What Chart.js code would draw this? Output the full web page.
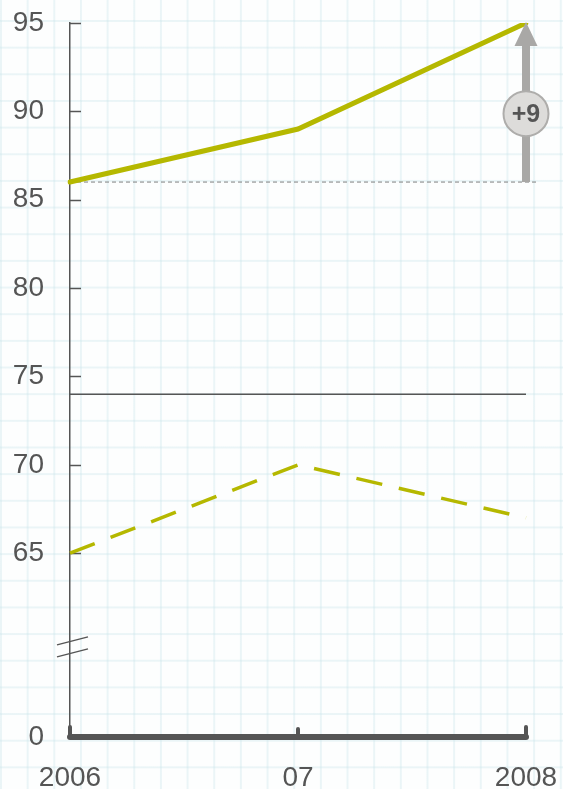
<!DOCTYPE html>
<html>
<head>
<meta charset="utf-8">
<script src="https://cdn.jsdelivr.net/npm/chart.js@4"></script>
<style>
html,body{margin:0;padding:0;}
body{
  width:563px;height:789px;overflow:hidden;
  background-color:#fdfefe;
  background-image:
    linear-gradient(to right, rgba(200,228,234,0.35) 1.5px, transparent 1.5px),
    linear-gradient(to bottom, rgba(200,228,234,0.35) 1.5px, transparent 1.5px);
  background-size:26.67px 26.67px;
  background-position:0 20px;
}
#wrap{position:absolute;left:0;top:0;width:563px;height:789px;}
</style>
</head>
<body>
<div id="wrap"><canvas id="c"></canvas></div>
<script>
// ---- data ----
const years = ['2006', '07', '2008'];
const solidSeries = [86, 89, 95];
const dashedSeries = [65, 70, 67];
const referenceLevel = 74;
const yTickValues = [65, 70, 75, 80, 85, 90, 95];
const axisBottomValue = 54.6;      // position where the broken axis shows "0"
const axisBottomLabel = '0';
const changeLabel = '+9';

const ink = '#555555';
const olive = '#b5b800';
const font = "'Liberation Sans', Arial, sans-serif";

const decor = {
  id: 'decor',
  beforeDatasetsDraw(chart) {
    const {ctx, chartArea: a, scales: {x, y}} = chart;
    ctx.save();
    const yr = y.getPixelForValue(referenceLevel);
    ctx.strokeStyle = ink; ctx.lineWidth = 1.5;
    ctx.beginPath(); ctx.moveTo(a.left, yr); ctx.lineTo(x.getPixelForValue(2), yr); ctx.stroke();
    const yb = y.getPixelForValue(solidSeries[0]);
    ctx.strokeStyle = '#808080'; ctx.lineWidth = 1; ctx.setLineDash([4, 3]);
    ctx.beginPath(); ctx.moveTo(a.left, yb); ctx.lineTo(x.getPixelForValue(2) + 11, yb); ctx.stroke();
    ctx.setLineDash([]);
    ctx.strokeStyle = ink; ctx.lineWidth = 1.5;
    yTickValues.forEach(v => {
      const py = Math.round(y.getPixelForValue(v)) + 0.5;
      ctx.beginPath(); ctx.moveTo(a.left, py); ctx.lineTo(a.left + 11, py); ctx.stroke();
    });
    const yBreak = y.getPixelForValue((axisBottomValue + yTickValues[0]) / 2 - 0.1);
    ctx.lineWidth = 1.5;
    [-6, 6].forEach(d => {
      ctx.beginPath();
      ctx.moveTo(a.left - 13, yBreak + d + 4);
      ctx.lineTo(a.left + 18, yBreak + d - 4);
      ctx.stroke();
    });
    ctx.restore();
  },
  afterDatasetsDraw(chart) {
    const {ctx, chartArea: a, scales: {x, y}} = chart;
    ctx.save();
    const yb = a.bottom;
    ctx.strokeStyle = ink; ctx.lineCap = 'round';
    ctx.lineWidth = 6;
    ctx.beginPath(); ctx.moveTo(x.getPixelForValue(0), yb); ctx.lineTo(x.getPixelForValue(2), yb); ctx.stroke();
    ctx.lineWidth = 4;
    [0, 1, 2].forEach(i => {
      const px = x.getPixelForValue(i);
      const len = i === 1 ? 8 : 10;
      ctx.beginPath(); ctx.moveTo(px, yb); ctx.lineTo(px, yb - len); ctx.stroke();
    });
    const ax = x.getPixelForValue(2);
    const yTop = y.getPixelForValue(solidSeries[2]);
    const yBase = y.getPixelForValue(solidSeries[0]);
    ctx.fillStyle = '#a9a8a6';
    ctx.fillRect(ax - 4, yTop + 20, 8, yBase - yTop - 20);
    ctx.beginPath();
    ctx.moveTo(ax, yTop - 1);
    ctx.lineTo(ax + 11.5, yTop + 23);
    ctx.lineTo(ax - 11.5, yTop + 23);
    ctx.closePath(); ctx.fill();
    const cy = yTop + (yBase - yTop) * 0.57;
    ctx.beginPath(); ctx.arc(ax, cy, 22.5, 0, Math.PI * 2);
    ctx.fillStyle = '#dddcda'; ctx.fill();
    ctx.lineWidth = 2; ctx.strokeStyle = '#aeadab'; ctx.stroke();
    ctx.fillStyle = ink;
    ctx.font = "bold 25px " + font;
    ctx.textAlign = 'center'; ctx.textBaseline = 'middle';
    ctx.fillText(changeLabel, ax, cy + 1);
    ctx.restore();
  }
};

new Chart(document.getElementById('c'), {
  type: 'line',
  data: {
    labels: years,
    datasets: [
      {data: solidSeries, borderColor: olive, borderWidth: 5, pointRadius: 0, tension: 0, borderCapStyle: 'round'},
      {data: dashedSeries, borderColor: olive, borderWidth: 3.5, borderDash: [26.5, 17], pointRadius: 0, tension: 0}
    ]
  },
  options: {
    responsive: true,
    maintainAspectRatio: false,
    animation: false,
    events: [],
    layout: {padding: {top: 23, right: 37, left: 0, bottom: 0}},
    plugins: {legend: {display: false}, tooltip: {enabled: false}},
    scales: {
      x: {
        type: 'category',
        offset: false,
        grid: {display: false},
        border: {display: false},
        ticks: {color: ink, font: {family: font, size: 28}, padding: 16, maxRotation: 0, autoSkip: false},
        afterFit(s) { s.height = 52; s.paddingLeft = 0; s.paddingRight = 0; }
      },
      y: {
        min: axisBottomValue,
        max: 95,
        grid: {display: false, drawTicks: false},
        border: {display: true, color: ink, width: 1.5},
        afterBuildTicks(s) {
          s.ticks = [axisBottomValue, ...yTickValues].map(v => ({value: v}));
        },
        ticks: {
          color: ink, font: {family: font, size: 28}, padding: 26,
          callback: v => v === axisBottomValue ? axisBottomLabel : String(v)
        },
        afterFit(s) { s.width = 70; s.paddingTop = 0; s.paddingBottom = 0; }
      }
    }
  },
  plugins: [decor]
});
</script>
</body>
</html>
